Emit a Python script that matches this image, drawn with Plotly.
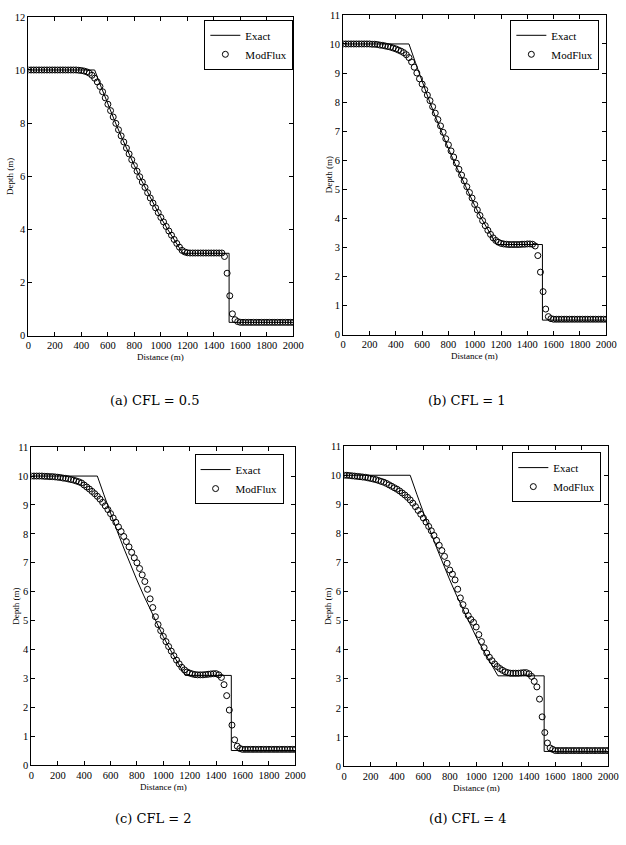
import plotly.graph_objects as go

W, H = 626, 845

# Cell positions of the numerical solution (m)
distance = list(range(0, 2001, 20))

# Exact dam-break solution: still water, rarefaction fan, plateau, bore, tailwater
exact_x = [0, 500, 550, 600, 650, 700, 750, 800, 850, 900, 950, 1000,
           1050, 1100, 1165, 1515, 1515, 2000]
exact_h = [10.00, 10.00, 9.35, 8.71, 8.10, 7.51, 6.94, 6.40, 5.88, 5.38, 4.90, 4.44,
           4.01, 3.60, 3.10, 3.10, 0.50, 0.50]

# ModFlux depths (m), one value per cell, rows of 10 cells (200 m each)
modflux_cfl05 = [
    10.00, 10.00, 10.00, 10.00, 10.00, 10.00, 10.00, 10.00, 10.00, 10.00,
    10.00, 10.00, 10.00, 10.00, 10.00, 10.00, 10.00, 10.00, 10.00, 9.99,
    9.98, 9.96, 9.93, 9.88, 9.80, 9.69, 9.55, 9.38, 9.18, 8.95,
    8.71, 8.47, 8.23, 7.99, 7.75, 7.52, 7.29, 7.06, 6.84, 6.62,
    6.40, 6.19, 5.98, 5.78, 5.58, 5.38, 5.18, 4.99, 4.81, 4.63,
    4.45, 4.28, 4.11, 3.94, 3.78, 3.62, 3.47, 3.33, 3.21, 3.15,
    3.12, 3.11, 3.11, 3.11, 3.11, 3.11, 3.11, 3.11, 3.11, 3.11,
    3.11, 3.11, 3.11, 3.11, 2.98, 2.35, 1.50, 0.82, 0.60, 0.53,
    0.50, 0.50, 0.50, 0.50, 0.50, 0.50, 0.50, 0.50, 0.50, 0.50,
    0.50, 0.50, 0.50, 0.50, 0.50, 0.50, 0.50, 0.50, 0.50, 0.50,
    0.50,
]
modflux_cfl1 = [
    10.00, 10.00, 10.00, 10.00, 10.00, 10.00, 10.00, 10.00, 10.00, 10.00,
    10.00, 9.99, 9.99, 9.98, 9.96, 9.95, 9.93, 9.91, 9.89, 9.86,
    9.83, 9.79, 9.75, 9.70, 9.63, 9.53, 9.38, 9.20, 9.00, 8.80,
    8.62, 8.43, 8.24, 8.05, 7.84, 7.62, 7.40, 7.18, 6.96, 6.74,
    6.53, 6.32, 6.11, 5.90, 5.69, 5.49, 5.29, 5.09, 4.89, 4.70,
    4.48, 4.29, 4.10, 3.92, 3.75, 3.59, 3.45, 3.33, 3.24, 3.18,
    3.14, 3.12, 3.11, 3.10, 3.10, 3.10, 3.10, 3.10, 3.11, 3.11,
    3.12, 3.12, 3.11, 3.05, 2.72, 2.15, 1.48, 0.88, 0.62, 0.55,
    0.53, 0.53, 0.53, 0.53, 0.53, 0.53, 0.53, 0.53, 0.53, 0.53,
    0.53, 0.53, 0.53, 0.53, 0.53, 0.53, 0.53, 0.53, 0.53, 0.53,
    0.53,
]
modflux_cfl2 = [
    10.00, 10.00, 10.00, 10.00, 10.00, 9.99, 9.99, 9.98, 9.98, 9.97,
    9.96, 9.95, 9.93, 9.92, 9.90, 9.88, 9.86, 9.83, 9.80, 9.76,
    9.69, 9.62, 9.55, 9.47, 9.39, 9.30, 9.20, 9.09, 8.97, 8.84,
    8.70, 8.55, 8.40, 8.24, 8.08, 7.91, 7.73, 7.55, 7.36, 7.17,
    7.00, 6.80, 6.58, 6.35, 6.08, 5.75, 5.45, 5.13, 4.86, 4.65,
    4.45, 4.27, 4.10, 3.94, 3.78, 3.63, 3.50, 3.38, 3.29, 3.22,
    3.18, 3.15, 3.13, 3.12, 3.12, 3.12, 3.13, 3.14, 3.15, 3.16,
    3.16, 3.12, 3.03, 2.78, 2.40, 1.90, 1.38, 0.87, 0.65, 0.57,
    0.54, 0.54, 0.54, 0.54, 0.54, 0.54, 0.54, 0.54, 0.54, 0.54,
    0.54, 0.54, 0.54, 0.54, 0.54, 0.54, 0.54, 0.54, 0.54, 0.54,
    0.54,
]
modflux_cfl4 = [
    10.00, 10.00, 9.99, 9.98, 9.97, 9.96, 9.95, 9.94, 9.93, 9.91,
    9.89, 9.87, 9.85, 9.82, 9.79, 9.76, 9.72, 9.67, 9.62, 9.57,
    9.52, 9.46, 9.39, 9.32, 9.24, 9.15, 9.04, 8.92, 8.79, 8.66,
    8.53, 8.39, 8.24, 8.09, 7.93, 7.76, 7.59, 7.41, 7.21, 6.97,
    6.74, 6.60, 6.40, 6.08, 5.78, 5.55, 5.33, 5.17, 5.04, 4.94,
    4.78, 4.52, 4.28, 4.07, 3.88, 3.74, 3.62, 3.51, 3.42, 3.35,
    3.29, 3.24, 3.21, 3.19, 3.19, 3.19, 3.19, 3.20, 3.21, 3.21,
    3.17, 3.08, 2.91, 2.72, 2.30, 1.69, 1.15, 0.79, 0.62, 0.57,
    0.53, 0.53, 0.53, 0.53, 0.53, 0.53, 0.53, 0.53, 0.53, 0.53,
    0.53, 0.53, 0.53, 0.53, 0.53, 0.53, 0.53, 0.53, 0.53, 0.53,
    0.53,
]

captions = ["(a) CFL = 0.5", "(b) CFL = 1", "(c) CFL = 2", "(d) CFL = 4"]
series = [modflux_cfl05, modflux_cfl1, modflux_cfl2, modflux_cfl4]
y_max = [12, 11, 11, 11]
y_step = [2, 1, 1, 1]
x_ticks = list(range(0, 2001, 200))

# Panel boxes in pixels: left, right, top, bottom
boxes = [(26, 297, 12, 335), (348, 617, 10, 334), (29, 299, 448, 770), (349, 619, 447, 771)]
# Legend anchor (right edge, top edge) in pixels
legend_pos = [(297, 15), (610, 15), (287, 455), (612, 453)]
# Caption centres in pixels
caption_pos = [(155, 401), (475, 401), (154, 824), (476, 824)]
# y-title x position in pixels
ytitle_x = [7, 333, 13, 332]

SERIF = "Liberation Serif, Times New Roman, serif"

fig = go.Figure()
layout = dict(
    width=W, height=H,
    margin=dict(l=0, r=0, t=0, b=0),
    paper_bgcolor="white", plot_bgcolor="white",
    font=dict(family=SERIF, color="black", size=10),
    annotations=[],
)

for i in range(4):
    n = "" if i == 0 else str(i + 1)
    lg = "legend" + n
    l, r, t, b = boxes[i]
    fig.add_trace(go.Scatter(
        x=exact_x, y=exact_h, mode="lines", name="Exact",
        line=dict(color="black", width=1),
        xaxis="x" + n, yaxis="y" + n, legend=lg,
    ))
    fig.add_trace(go.Scatter(
        x=distance, y=series[i], mode="markers", name="ModFlux",
        marker=dict(symbol="circle-open", size=6, color="black",
                    line=dict(color="black", width=1)),
        xaxis="x" + n, yaxis="y" + n, legend=lg,
    ))
    axis_common = dict(
        showline=True, linecolor="black", linewidth=1, mirror="ticks",
        ticks="inside", ticklen=4, tickcolor="black", tickwidth=1,
        showgrid=False, zeroline=False,
        tickfont=dict(family=SERIF, size=10.5, color="black"),
    )
    layout["xaxis" + n] = dict(
        axis_common, domain=[l / W, r / W], range=[0, 2000],
        tickvals=x_ticks, anchor="y" + n,
    )
    layout["yaxis" + n] = dict(
        axis_common, domain=[1 - b / H, 1 - t / H], range=[0, y_max[i]],
        dtick=y_step[i], tick0=0, anchor="x" + n,
    )
    lx, ly = legend_pos[i]
    layout[lg] = dict(
        x=lx / W, y=1 - ly / H, xanchor="right", yanchor="top",
        bgcolor="white", bordercolor="black", borderwidth=1,
        font=dict(family=SERIF, size=11, color="black"),
        itemwidth=30, tracegroupgap=0,
    )
    layout["annotations"] += [
        dict(text="Distance (m)", x=(l + r) / 2 / W, y=1 - (b + 22) / H,
             xref="paper", yref="paper", showarrow=False,
             xanchor="center", yanchor="middle",
             font=dict(family=SERIF, size=9, color="black")),
        dict(text="Depth (m)", x=ytitle_x[i] / W, y=1 - (t + b) / 2 / H,
             xref="paper", yref="paper", showarrow=False, textangle=-90,
             xanchor="center", yanchor="middle",
             font=dict(family=SERIF, size=9, color="black")),
        dict(text=captions[i], x=caption_pos[i][0] / W, y=1 - caption_pos[i][1] / H,
             xref="paper", yref="paper", showarrow=False,
             xanchor="center", yanchor="middle",
             font=dict(family="DejaVu Serif, serif", size=13, color="black")),
    ]

fig.update_layout(**layout)
fig.write_html("out.html")
